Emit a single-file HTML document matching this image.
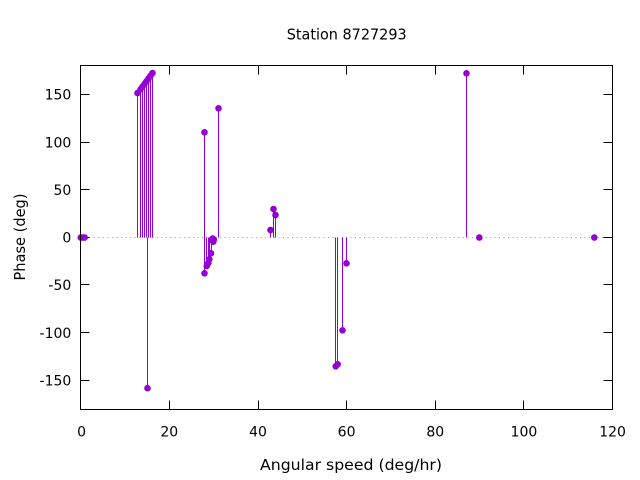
<!DOCTYPE html>
<html><head><meta charset="utf-8"><style>
html,body{margin:0;padding:0;background:#fff;}
svg{display:block;}
text{font-family:"DejaVu Sans","Liberation Sans",sans-serif;fill:#000;}
</style></head><body>
<svg width="640" height="480" viewBox="0 0 640 480" xmlns="http://www.w3.org/2000/svg">
<rect width="640" height="480" fill="#fff"/>
<!-- zero line -->
<line x1="80.5" y1="237.5" x2="612.5" y2="237.5" stroke="#a0a0a0" stroke-width="1" stroke-dasharray="1,3.5" shape-rendering="crispEdges"/>
<!-- ticks -->
<g stroke="#000" stroke-width="1" shape-rendering="crispEdges">
<line x1="80.5" y1="94.5" x2="89.5" y2="94.5"/><line x1="612.5" y1="94.5" x2="603.5" y2="94.5"/>
<line x1="80.5" y1="142.5" x2="89.5" y2="142.5"/><line x1="612.5" y1="142.5" x2="603.5" y2="142.5"/>
<line x1="80.5" y1="189.5" x2="89.5" y2="189.5"/><line x1="612.5" y1="189.5" x2="603.5" y2="189.5"/>
<line x1="80.5" y1="237.5" x2="89.5" y2="237.5"/><line x1="612.5" y1="237.5" x2="603.5" y2="237.5"/>
<line x1="80.5" y1="284.5" x2="89.5" y2="284.5"/><line x1="612.5" y1="284.5" x2="603.5" y2="284.5"/>
<line x1="80.5" y1="332.5" x2="89.5" y2="332.5"/><line x1="612.5" y1="332.5" x2="603.5" y2="332.5"/>
<line x1="80.5" y1="380.5" x2="89.5" y2="380.5"/><line x1="612.5" y1="380.5" x2="603.5" y2="380.5"/>
<line x1="169.5" y1="409.5" x2="169.5" y2="400.5"/><line x1="169.5" y1="65.5" x2="169.5" y2="74.5"/>
<line x1="258.5" y1="409.5" x2="258.5" y2="400.5"/><line x1="258.5" y1="65.5" x2="258.5" y2="74.5"/>
<line x1="346.5" y1="409.5" x2="346.5" y2="400.5"/><line x1="346.5" y1="65.5" x2="346.5" y2="74.5"/>
<line x1="435.5" y1="409.5" x2="435.5" y2="400.5"/><line x1="435.5" y1="65.5" x2="435.5" y2="74.5"/>
<line x1="523.5" y1="409.5" x2="523.5" y2="400.5"/><line x1="523.5" y1="65.5" x2="523.5" y2="74.5"/>
</g>
<!-- impulses -->
<g stroke="#9400d3" stroke-width="1" shape-rendering="crispEdges">
<line x1="137.5" y1="237.5" x2="137.5" y2="93.1"/>
<line x1="140.5" y1="237.5" x2="140.5" y2="89.4"/>
<line x1="142.5" y1="237.5" x2="142.5" y2="86.7"/>
<line x1="144.5" y1="237.5" x2="144.5" y2="83.9"/>
<line x1="146.5" y1="237.5" x2="146.5" y2="81.2"/>
<line x1="148.5" y1="237.5" x2="148.5" y2="78.5"/>
<line x1="150.5" y1="237.5" x2="150.5" y2="75.8"/>
<line x1="152.5" y1="237.5" x2="152.5" y2="73"/>
<line x1="147.5" y1="237.5" x2="147.5" y2="388.2"/>
<line x1="204.5" y1="237.5" x2="204.5" y2="132.3"/>
<line x1="204.5" y1="237.5" x2="204.5" y2="273.3"/>
<line x1="206.5" y1="237.5" x2="206.5" y2="266"/>
<line x1="208.5" y1="237.5" x2="208.5" y2="263"/>
<line x1="209.5" y1="237.5" x2="209.5" y2="259.3"/>
<line x1="211.5" y1="237.5" x2="211.5" y2="253.3"/>
<line x1="212.5" y1="237.5" x2="212.5" y2="241"/>
<line x1="213.5" y1="237.5" x2="213.5" y2="241.7"/>
<line x1="218.5" y1="237.5" x2="218.5" y2="108.3"/>
<line x1="270.5" y1="237.5" x2="270.5" y2="230"/>
<line x1="273.5" y1="237.5" x2="273.5" y2="209"/>
<line x1="275.5" y1="237.5" x2="275.5" y2="215"/>
<line x1="335.5" y1="237.5" x2="335.5" y2="366.3"/>
<line x1="337.5" y1="237.5" x2="337.5" y2="364.3"/>
<line x1="342.5" y1="237.5" x2="342.5" y2="330.3"/>
<line x1="346.5" y1="237.5" x2="346.5" y2="263.3"/>
<line x1="466.5" y1="237.5" x2="466.5" y2="73.3"/>
</g>
<!-- points -->
<g fill="#9400d3">
<circle cx="80.8" cy="237.5" r="3.3"/><circle cx="81" cy="237.5" r="3.3"/><circle cx="83" cy="237.5" r="3.3"/><circle cx="84.6" cy="237.5" r="3.3"/>
<circle cx="137.5" cy="93.1" r="3.3"/><circle cx="140.5" cy="89.4" r="3.3"/><circle cx="142.5" cy="86.7" r="3.3"/><circle cx="144.5" cy="83.9" r="3.3"/>
<circle cx="146.5" cy="81.2" r="3.3"/><circle cx="148.5" cy="78.5" r="3.3"/><circle cx="150.5" cy="75.8" r="3.3"/><circle cx="152.5" cy="73" r="3.3"/>
<circle cx="147.5" cy="388.2" r="3.3"/>
<circle cx="204.5" cy="132.3" r="3.3"/><circle cx="204.5" cy="273.3" r="3.3"/><circle cx="206.7" cy="266" r="3.3"/>
<circle cx="208.3" cy="263" r="3.3"/><circle cx="209.3" cy="259.3" r="3.3"/><circle cx="211" cy="253.3" r="3.3"/>
<circle cx="212.7" cy="238.5" r="3.3"/><circle cx="213.3" cy="241.7" r="3.3"/><circle cx="212.3" cy="240" r="3.3"/><circle cx="213.8" cy="239.5" r="3.3"/>
<circle cx="218.5" cy="108.3" r="3.3"/>
<circle cx="270.5" cy="230" r="3.3"/><circle cx="273.5" cy="209" r="3.3"/><circle cx="275.5" cy="215" r="3.3"/>
<circle cx="335.7" cy="366.3" r="3.3"/><circle cx="337.7" cy="364.3" r="3.3"/><circle cx="342.5" cy="330.3" r="3.3"/><circle cx="346.5" cy="263.3" r="3.3"/>
<circle cx="466.5" cy="73.3" r="3.3"/><circle cx="479.3" cy="237.5" r="3.3"/><circle cx="594.3" cy="237.5" r="3.3"/>
</g>
<!-- border -->
<rect x="80.5" y="65.5" width="532" height="344" fill="none" stroke="#000" stroke-width="1" shape-rendering="crispEdges"/>
<!-- y tick labels -->
<g font-size="14" text-anchor="end">
<text x="71.3" y="99.3">150</text>
<text x="71.3" y="147.3">100</text>
<text x="71.3" y="194.8">50</text>
<text x="71.3" y="242.3">0</text>
<text x="71.3" y="290">-50</text>
<text x="71.3" y="337.8">-100</text>
<text x="71.3" y="385.6">-150</text>
</g>
<!-- x tick labels -->
<g font-size="14" text-anchor="middle">
<text x="81.6" y="436.7">0</text>
<text x="169.3" y="436.7">20</text>
<text x="258" y="436.7">40</text>
<text x="346.6" y="436.7">60</text>
<text x="435.3" y="436.7">80</text>
<text x="523.9" y="436.7">100</text>
<text x="612.6" y="436.7">120</text>
</g>
<text x="346.7" y="39.3" font-size="15" text-anchor="middle" textLength="120" lengthAdjust="spacingAndGlyphs">Station 8727293</text>
<text x="351" y="470" font-size="15" text-anchor="middle" textLength="182" lengthAdjust="spacingAndGlyphs">Angular speed (deg/hr)</text>
<text transform="translate(25,237) rotate(-90)" x="0" y="0" font-size="15" text-anchor="middle" textLength="87" lengthAdjust="spacingAndGlyphs">Phase (deg)</text>
</svg>
</body></html>
